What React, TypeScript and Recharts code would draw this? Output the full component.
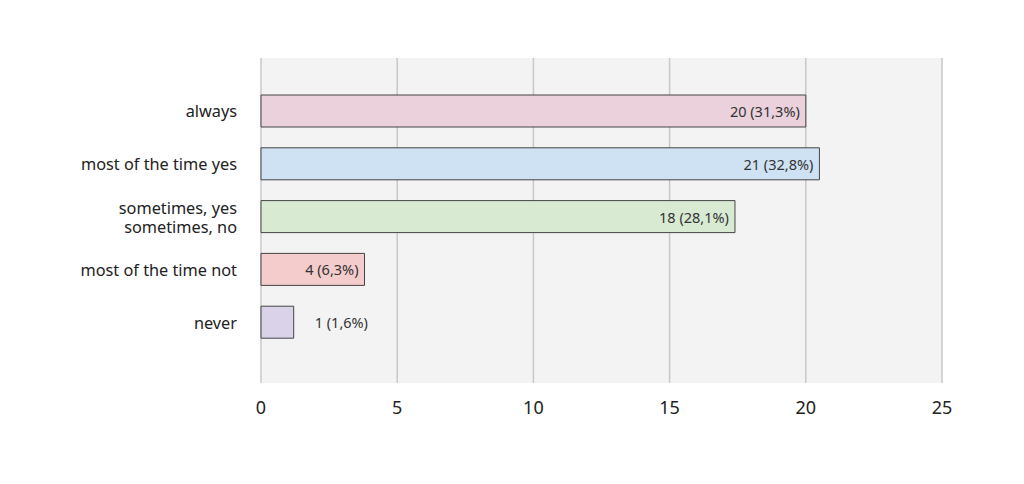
import { Bar, BarChart, CartesianGrid, Cell, LabelList, XAxis, YAxis } from 'recharts';

const categories = ['always', 'most of the time yes', 'sometimes, yes\nsometimes, no', 'most of the time not', 'never'];
const barLengths = [20, 20.5, 17.4, 3.8, 1.2];
const barLabels = ['20 (31,3%)', '21 (32,8%)', '18 (28,1%)', '4 (6,3%)', '1 (1,6%)'];
const barColors = ['#ead1dc', '#cfe2f3', '#d9ead3', '#f4cccc', '#d9d2e9'];
const xTicks = [0, 5, 10, 15, 20, 25];

const data = categories.map((name, i) => ({ name, value: barLengths[i], label: barLabels[i] }));

const font = "'Noto Sans', sans-serif";

const CategoryTick = ({ x, y, payload }: any) => {
  const lines = String(payload.value).split('\n');
  const lh = 19;
  const startY = y - ((lines.length - 1) * lh) / 2;
  return (
    <text x={x - 16} y={startY} textAnchor="end" fontSize={16.3} fill="#222" fontFamily={font} dominantBaseline="central">
      {lines.map((line, i) => (
        <tspan key={i} x={x - 16} dy={i === 0 ? 0 : lh}>
          {line}
        </tspan>
      ))}
    </text>
  );
};

const BarValueLabel = ({ x, y, width, height, value }: any) => {
  const inside = width > 60;
  return (
    <text
      x={inside ? x + width - 6 : x + width + 21}
      y={y + height / 2}
      textAnchor={inside ? 'end' : 'start'}
      dominantBaseline="central"
      fontSize={14.5}
      fill="#333"
      fontFamily={font}
    >
      {value}
    </text>
  );
};

export default function App() {
  return (
    <div style={{ position: 'absolute', left: 0, top: 0, width: 1024, height: 484, background: '#fff' }}>
      <BarChart
        width={1024}
        height={484}
        data={data}
        layout="vertical"
        margin={{ top: 58, right: 82, bottom: 71, left: 11 }}
      >
        <CartesianGrid horizontal={false} fill="#f3f3f3" stroke="#c8c8c8" strokeWidth={1.5} />
        <XAxis
          type="number"
          domain={[0, 25]}
          ticks={xTicks}
          axisLine={false}
          tickLine={false}
          tickMargin={12}
          tick={{ fontSize: 18, fill: '#222', fontFamily: font }}
        />
        <YAxis
          type="category"
          dataKey="name"
          width={250}
          axisLine={false}
          tickLine={false}
          tick={<CategoryTick />}
          padding={{ top: 27, bottom: 34 }}
          interval={0}
        />
        <Bar dataKey="value" barSize={32} stroke="#444" strokeWidth={1} isAnimationActive={false}>
          {data.map((d, i) => (
            <Cell key={d.name} fill={barColors[i]} />
          ))}
          <LabelList dataKey="label" content={<BarValueLabel />} />
        </Bar>
      </BarChart>
    </div>
  );
}
